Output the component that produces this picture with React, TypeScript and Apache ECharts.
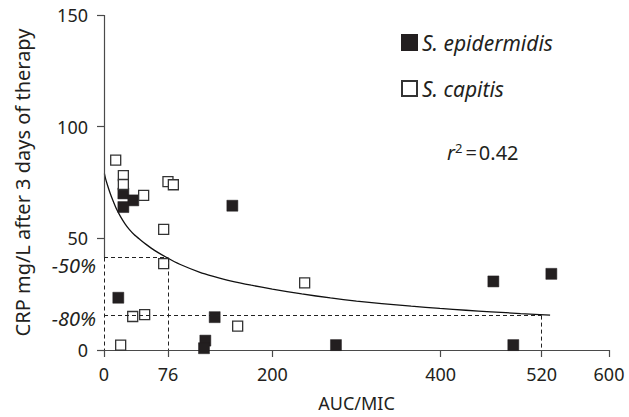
import React, { useEffect, useRef } from "react";
import * as echarts from "echarts";

const xTicks = [0, 76, 200, 400, 520, 600];
const yTicks = [0, 50, 100, 150];

const epidermidis: [number, number][] = [
  [23, 70.1],
  [34.8, 67.0],
  [23, 64.0],
  [152.5, 64.6],
  [17, 23.4],
  [131.5, 14.7],
  [120.4, 4.2],
  [118.8, 0.8],
  [275.6, 2.2],
  [462.6, 30.7],
  [531.5, 34.1],
  [486.3, 2.2],
];

const capitis: [number, number][] = [
  [13.9, 85.0],
  [23, 78.1],
  [23, 74.1],
  [76, 75.4],
  [82.4, 74.0],
  [47.1, 69.2],
  [70.9, 54.0],
  [70.9, 38.7],
  [34.1, 15.0],
  [48.3, 15.8],
  [19.8, 2.2],
  [158.8, 10.7],
  [238.4, 30.1],
];

const curveX = [0.5, 2, 4, 7, 10, 15, 20, 25, 30, 36, 43, 50, 60, 75, 90, 114, 130, 150, 175, 200, 235, 269, 300, 330, 365, 399, 430, 460, 495, 530];
const curveY = [79, 76.5, 74, 70.5, 67.5, 63, 59.5, 56.5, 54, 51.6, 49.4, 47.3, 44.6, 41.3, 38.4, 34.8, 33, 31, 29, 27.3, 25.1, 23.3, 21.9, 20.8, 19.6, 18.6, 17.8, 17.1, 16.3, 15.6];

const cut50 = { x: 76, y: 41.4, label: "−50%" };
const cut80 = { x: 520, y: 15.4, label: "−80%" };

const FONT = "Noto Sans";
const TXT = "#231f20";
const AX = "#4a4a4a";

export default function App() {
  const ref = useRef<HTMLDivElement>(null);
  useEffect(() => {
    if (!ref.current) return;
    const chart = echarts.init(ref.current, undefined, { renderer: "svg" });
    const dashed = { type: [4, 3] as any, color: "#222", width: 1 };
    const cutLabel = (text: string, offY: number) => ({
      show: true,
      position: "start",
      formatter: text,
      fontFamily: FONT,
      fontSize: 20,
      fontStyle: "italic",
      color: TXT,
      distance: 8,
      offset: [0, offY],
    });
    chart.setOption({
      animation: false,
      textStyle: { fontFamily: FONT, color: TXT },
      grid: { left: 104, right: 20, top: 15, bottom: 66 },
      legend: {
        orient: "vertical",
        left: 396,
        top: 27,
        itemGap: 25,
        itemWidth: 15,
        itemHeight: 15,
        icon: "rect",
        textStyle: { fontFamily: FONT, fontSize: 21, fontStyle: "italic", color: TXT },
        data: ["S. epidermidis", "S. capitis"],
      },
      xAxis: {
        type: "value",
        min: 0,
        max: 600,
        name: "AUC/MIC",
        nameLocation: "middle",
        nameGap: 44,
        nameTextStyle: { fontFamily: FONT, fontSize: 18, color: TXT },
        axisLine: { show: true, lineStyle: { color: AX, width: 1.2 } },
        axisTick: { show: true, length: 7, customValues: xTicks, lineStyle: { color: AX, width: 1.2 } },
        axisLabel: { customValues: xTicks, fontFamily: FONT, fontSize: 18, color: TXT, margin: 15 },
        splitLine: { show: false },
      },
      yAxis: {
        type: "value",
        min: 0,
        max: 150,
        interval: 50,
        name: "CRP mg/L after 3 days of therapy",
        nameLocation: "middle",
        nameGap: 72,
        nameTextStyle: { fontFamily: FONT, fontSize: 20, color: TXT },
        axisLine: { show: false },
        axisTick: { show: true, length: 7, customValues: yTicks, lineStyle: { color: AX, width: 1.2 } },
        axisLabel: { customValues: yTicks, fontFamily: FONT, fontSize: 18, color: TXT, margin: 16 },
        splitLine: { show: false },
      },
      graphic: [
        {
          type: "text",
          left: 447,
          top: 141,
          style: {
            text: "{i|r}{s|2}{n|=}{n|0.42}",
            rich: {
              i: { fontFamily: FONT, fontSize: 20, fontStyle: "italic", fill: TXT, verticalAlign: "bottom" },
              s: { fontFamily: FONT, fontSize: 13, fill: TXT, verticalAlign: "top", padding: [0, 2, 8, 0] },
              n: { fontFamily: FONT, fontSize: 20, fill: TXT, verticalAlign: "bottom", padding: [0, 1, 0, 1] },
            },
          },
        },
      ],
      series: [
        {
          name: "fit",
          type: "line",
          data: curveX.map((x, i) => [x, curveY[i]]),
          showSymbol: false,
          smooth: 0.2,
          lineStyle: { color: "#111", width: 1.3 },
          silent: true,
          z: 1,
          markLine: {
            silent: true,
            symbol: "none",
            animation: false,
            label: { show: false },
            data: [
              [
                { coord: [0, 150], lineStyle: { type: "solid", color: AX, width: 1.2 } },
                { coord: [0, cut50.y] },
              ],
              [
                { coord: [0, cut50.y], lineStyle: dashed },
                { coord: [0, 0] },
              ],
              [
                { coord: [0, cut50.y], lineStyle: dashed, label: cutLabel(cut50.label, 8) },
                { coord: [cut50.x, cut50.y] },
              ],
              [
                { coord: [cut50.x, cut50.y], lineStyle: dashed },
                { coord: [cut50.x, 0] },
              ],
              [
                { coord: [0, cut80.y], lineStyle: dashed, label: cutLabel(cut80.label, 3) },
                { coord: [cut80.x, cut80.y] },
              ],
              [
                { coord: [cut80.x, cut80.y], lineStyle: dashed },
                { coord: [cut80.x, 0] },
              ],
            ],
          },
        },
        {
          name: "S. epidermidis",
          type: "scatter",
          symbol: "rect",
          symbolSize: 11,
          data: epidermidis,
          itemStyle: { color: "#231f20", borderColor: "#231f20", borderWidth: 0.5, opacity: 1 },
          z: 3,
        },
        {
          name: "S. capitis",
          type: "scatter",
          symbol: "rect",
          symbolSize: 10,
          data: capitis,
          itemStyle: { color: "#ffffff", borderColor: "#333", borderWidth: 1.3, opacity: 1 },
          z: 4,
        },
      ],
    });
    return () => chart.dispose();
  }, []);
  return (
    <div
      ref={ref}
      style={{ position: "absolute", left: 0, top: 0, width: 629, height: 417 }}
    />
  );
}
